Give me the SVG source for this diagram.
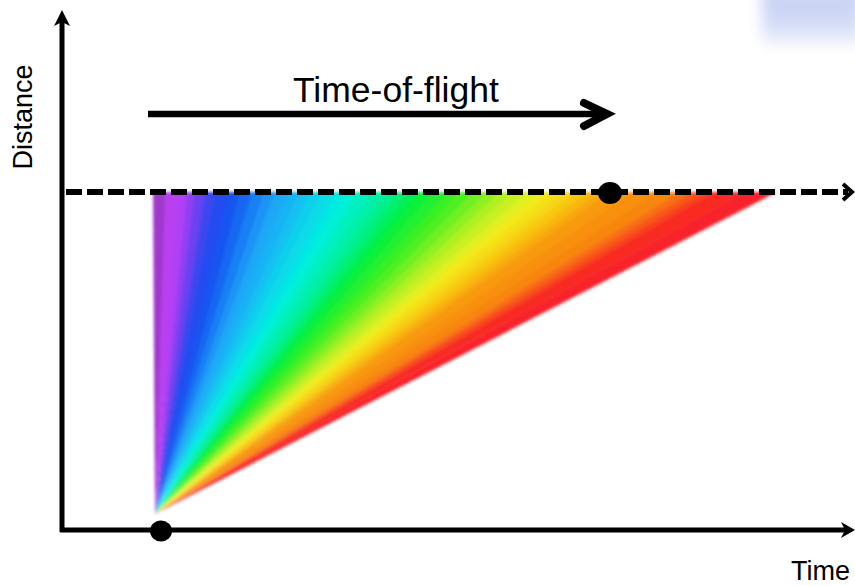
<svg xmlns="http://www.w3.org/2000/svg" width="855" height="586" viewBox="0 0 855 586">
<defs>
<filter id="soft" x="-5%" y="-5%" width="110%" height="110%"><feGaussianBlur stdDeviation="1.6"/></filter>
<filter id="haze" x="-50%" y="-50%" width="200%" height="200%"><feGaussianBlur stdDeviation="7"/></filter>
<linearGradient id="hz" x1="0" y1="0" x2="0" y2="1"><stop offset="0" stop-color="#b4c2f0"/><stop offset="0.6" stop-color="#c8d2f4"/><stop offset="1" stop-color="#eef1fb"/></linearGradient>
</defs>
<style>
.ax{stroke:#000;stroke-width:5;fill:none}
.lbl{font-family:"Liberation Sans",Arial,sans-serif;fill:#000}
</style>
<rect width="855" height="586" fill="#fff"/>
<g id="haze-corner"><rect x="762" y="-10" width="100" height="55" fill="url(#hz)" opacity="0.8" filter="url(#haze)"/></g>
<g id="fan" filter="url(#soft)">
<polygon points="155,514 153,192 166,192" fill="#a038cc"/>
<polygon points="155,514 165,192 179,192" fill="#b840f0"/>
<polygon points="155,514 178,192 188,192" fill="#b040f6"/>
<polygon points="155,514 187,192 196,192" fill="#9040f2"/>
<polygon points="155,514 195,192 206,192" fill="#6a42f0"/>
<polygon points="155,514 205,192 216,192" fill="#3e46f0"/>
<polygon points="155,514 215,192 229,192" fill="#224cf0"/>
<polygon points="155,514 228,192 241,192" fill="#1654f0"/>
<polygon points="155,514 240,192 253,192" fill="#1268f2"/>
<polygon points="155,514 252,192 265,192" fill="#1880f4"/>
<polygon points="155,514 264,192 276,192" fill="#1c94f6"/>
<polygon points="155,514 275,192 288,192" fill="#1ca8f6"/>
<polygon points="155,514 287,192 300,192" fill="#18b4f4"/>
<polygon points="155,514 299,192 311,192" fill="#14c0f2"/>
<polygon points="155,514 310,192 323,192" fill="#0cd0ec"/>
<polygon points="155,514 322,192 335,192" fill="#08dce8"/>
<polygon points="155,514 334,192 346,192" fill="#04e8e4"/>
<polygon points="155,514 345,192 359,192" fill="#00f0d8"/>
<polygon points="155,514 358,192 373,192" fill="#00f0c0"/>
<polygon points="155,514 372,192 386,192" fill="#00f0a8"/>
<polygon points="155,514 385,192 398,192" fill="#00f090"/>
<polygon points="155,514 397,192 410,192" fill="#00f070"/>
<polygon points="155,514 409,192 421,192" fill="#00f050"/>
<polygon points="155,514 420,192 434,192" fill="#08f038"/>
<polygon points="155,514 433,192 448,192" fill="#20f030"/>
<polygon points="155,514 447,192 461,192" fill="#38f024"/>
<polygon points="155,514 460,192 474,192" fill="#50f020"/>
<polygon points="155,514 473,192 488,192" fill="#70f020"/>
<polygon points="155,514 487,192 501,192" fill="#90f020"/>
<polygon points="155,514 500,192 514,192" fill="#b0f020"/>
<polygon points="155,514 513,192 528,192" fill="#c8f020"/>
<polygon points="155,514 527,192 541,192" fill="#e0f020"/>
<polygon points="155,514 540,192 553,192" fill="#f2ea1e"/>
<polygon points="155,514 552,192 565,192" fill="#f4e018"/>
<polygon points="155,514 564,192 576,192" fill="#f6d414"/>
<polygon points="155,514 575,192 588,192" fill="#f8c810"/>
<polygon points="155,514 587,192 600,192" fill="#f8b810"/>
<polygon points="155,514 599,192 611,192" fill="#f8a810"/>
<polygon points="155,514 610,192 634,192" fill="#f89a10"/>
<polygon points="155,514 633,192 658,192" fill="#f89010"/>
<polygon points="155,514 657,192 681,192" fill="#f88610"/>
<polygon points="155,514 680,192 693,192" fill="#f87014"/>
<polygon points="155,514 692,192 705,192" fill="#f85818"/>
<polygon points="155,514 704,192 716,192" fill="#f8401c"/>
<polygon points="155,514 715,192 746,192" fill="#f82c24"/>
<polygon points="155,514 745,192 777,192" fill="#f8242c"/>
</g>
<g id="connectors">
<line class="ax" x1="62" y1="532" x2="62" y2="22"/>
<polygon points="62,10 54,26 62,22 70,26" fill="#000"/>
<line class="ax" x1="60" y1="530" x2="846" y2="530"/>
<polygon points="855,530 841,522 845,530 841,538" fill="#000"/>
<line x1="66" y1="192" x2="848" y2="192" stroke="#000" stroke-width="6" stroke-dasharray="16 5"/>
<polyline points="843,184 852,192 843,200" fill="none" stroke="#000" stroke-width="4"/>
<line x1="148" y1="114" x2="604" y2="114" stroke="#000" stroke-width="6.5"/>
<polyline points="584,103 607,114 584,126" fill="none" stroke="#000" stroke-width="8" stroke-linecap="round" stroke-linejoin="miter"/>
</g>
<g id="dot-start"><ellipse cx="161" cy="531" rx="11" ry="10.5" fill="#000"/></g>
<g id="dot-arrival"><ellipse cx="610" cy="193" rx="12" ry="11" fill="#000"/></g>
<g id="labels">
<text class="lbl" x="293" y="102" font-size="35.5">Time-of-flight</text>
<text class="lbl" x="791" y="580" font-size="27">Time</text>
<text class="lbl" transform="translate(32,117) rotate(-90)" text-anchor="middle" font-size="27">Distance</text>
</g>
</svg>
